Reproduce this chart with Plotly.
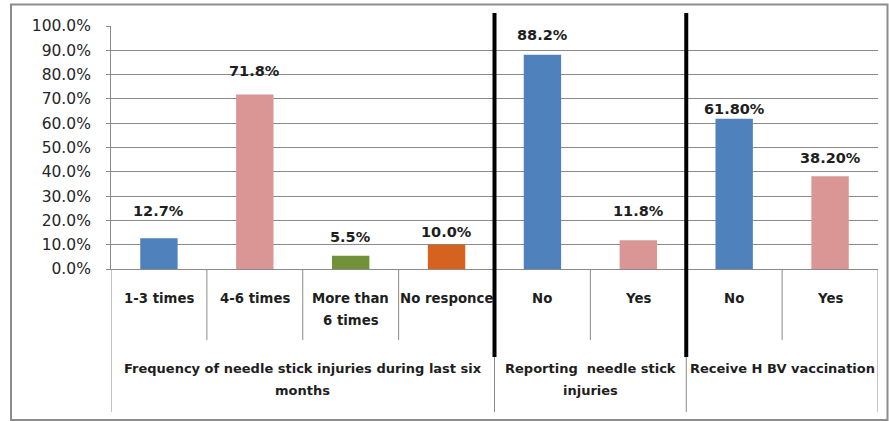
import plotly.graph_objects as go

# ---- data ----
categories = [["1-3 times"], ["4-6 times"], ["More than", "6 times"], ["No responce"],
              ["No"], ["Yes"], ["No"], ["Yes"]]
values = [0.127, 0.718, 0.055, 0.100, 0.882, 0.118, 0.618, 0.382]
value_labels = ["12.7%", "71.8%", "5.5%", "10.0%", "88.2%", "11.8%", "61.80%", "38.20%"]
groups = [["Frequency of needle stick injuries during last six", "months"],
          ["Reporting\u00a0 needle stick", "injuries"],
          ["Receive H BV vaccination"]]
group_sizes = [4, 2, 2]
y_ticks = [i / 10 for i in range(11)]

# ---- style ----
colors = ["#4F81BD", "#D99694", "#71913A", "#D5621F", "#4F81BD", "#D99694", "#4F81BD", "#D99694"]
label_shift = [27, 24, 19, 13, 20, 29, 10, 18]
grid = "#8A8A8A"
txt = "#1E1E1E"

W, H = 889, 421
L, R, T, B = 111, 11, 26, 152
pw, ph = W - L - R, H - T - B


def py(pix):  # pixel y -> paper y
    return (H - B - pix) / ph


def px(pix):  # pixel x -> paper x
    return (pix - L) / pw


xs = list(range(len(values)))

fig = go.Figure()
fig.add_trace(go.Bar(x=xs, y=values, marker=dict(color=colors, line=dict(width=0)),
                     width=0.39, hoverinfo="skip"))

ann = []
for x, v, lab, s in zip(xs, values, value_labels, label_shift):
    ann.append(dict(x=x, y=v, xref="x", yref="y", text="<b>%s</b>" % lab, showarrow=False,
                    yanchor="middle", yshift=s,
                    font=dict(family="DejaVu Sans", size=14.5, color=txt)))

for x, lines in zip(xs, categories):
    for k, line in enumerate(lines):
        ann.append(dict(x=x, y=py(298 + 22 * k), xref="x", yref="paper", text="<b>%s</b>" % line,
                        showarrow=False, yanchor="middle",
                        font=dict(family="DejaVu Sans", size=13.3, color=txt)))

shapes = []
start = 0
bounds = [-0.5]
for g, n in zip(groups, group_sizes):
    center = start + (n - 1) / 2
    for k, line in enumerate(g):
        ann.append(dict(x=center, y=py(368 + 22 * k), xref="x", yref="paper", text="<b>%s</b>" % line,
                        showarrow=False, yanchor="middle",
                        font=dict(family="DejaVu Sans", size=13, color=txt)))
    for j in range(1, n):
        xb = start + j - 0.5
        shapes.append(dict(type="line", xref="x", yref="paper", x0=xb, x1=xb, y0=py(340), y1=0,
                           line=dict(color=grid, width=1)))
    start += n
    bounds.append(start - 0.5)

for xb in bounds:
    shapes.append(dict(type="line", xref="x", yref="paper", x0=xb, x1=xb, y0=py(412), y1=0,
                       line=dict(color=grid, width=1)))

for xb in bounds[1:-1]:
    shapes.append(dict(type="line", xref="x", yref="paper", x0=xb, x1=xb, y0=py(357), y1=py(13),
                       line=dict(color="#000000", width=4)))

shapes.append(dict(type="rect", xref="paper", yref="paper", x0=px(11), x1=px(887.5), y0=py(420),
                   y1=py(4.5), line=dict(color="#8C8C8C", width=2), layer="below"))

fig.update_layout(
    width=W, height=H, margin=dict(l=L, r=R, t=T, b=B),
    paper_bgcolor="white", plot_bgcolor="white", showlegend=False,
    annotations=ann, shapes=shapes,
    xaxis=dict(range=[-0.5, len(values) - 0.5], showticklabels=False, showgrid=False,
               zeroline=False, showline=True, linecolor=grid, linewidth=1, fixedrange=True),
    yaxis=dict(range=[0, 1], tickvals=y_ticks, tickformat=".1%", showgrid=True, gridcolor=grid,
               gridwidth=1, zeroline=False, showline=True, linecolor=grid, linewidth=1,
               ticks="outside", ticklen=4, tickcolor=grid, ticklabelstandoff=12,
               tickfont=dict(family="DejaVu Sans", size=15.5, color="#262626"), fixedrange=True),
)

fig.write_html("out.html", config={"displayModeBar": False},
               post_script="document.body.style.margin='0';document.body.style.padding='0';")
